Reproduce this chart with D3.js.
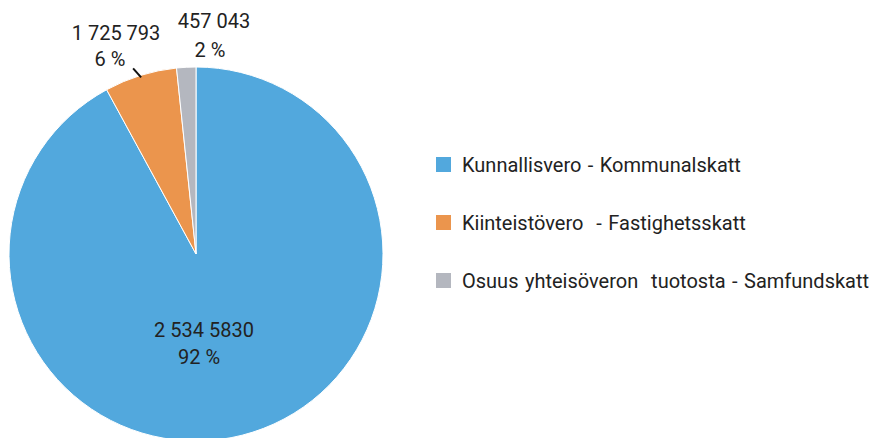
<!DOCTYPE html>
<html>
<head>
<meta charset="utf-8">
<script src="https://cdn.jsdelivr.net/npm/d3@7"></script>
<style>
  body { margin: 0; background: #fff; }
  text { font-family: Roboto, "Noto Sans", sans-serif; fill: #222; }
</style>
</head>
<body>
<div id="chart"></div>
<script>
// data
let categories = ["Kunnallisvero - Kommunalskatt", "Kiinteistövero  - Fastighetsskatt", "Osuus yhteisöveron  tuotosta - Samfundskatt"];
let values = [25345830, 1725793, 457043];
let valueLabels = ["2 534 5830", "1 725 793", "457 043"];
let colors = ["#52a8dd", "#eb954d", "#b4b7bf"];

let width = 870, height = 438;
let cx = 196, cy = 254, radius = 187;
let fontSize = 20;

let svg = d3.select("#chart")
    .append("svg")
        .attr("width", width)
        .attr("height", height);

let data = values.map((v, i) => ({value: v, label: valueLabels[i], name: categories[i], color: colors[i]}));
let total = d3.sum(values);

let pie = d3.pie()
    .sort(null)
    .value(d => d.value);

let arc = d3.arc()
    .innerRadius(0)
    .outerRadius(radius);

let arcs = pie(data);

let g = svg.append("g")
    .attr("transform", `translate(${cx},${cy})`);

g.selectAll("path")
    .data(arcs)
    .enter()
    .append("path")
        .attr("d", arc)
        .attr("fill", d => d.data.color)
        .attr("stroke", "#fff")
        .attr("stroke-width", 1);

let pct = d => Math.round(d.data.value / total * 100) + " %";

// label placement (relative to pie centre): [value line, percent line]
let labelPos = [
    [{x: 8, y: 83}, {x: 3, y: 110}],
    [{x: -80, y: -214}, {x: -86, y: -188}],
    [{x: 18, y: -226}, {x: 14, y: -197}]
];

arcs.forEach((d, i) => {
    let p = labelPos[i];
    g.append("text")
        .attr("x", p[0].x)
        .attr("y", p[0].y)
        .attr("text-anchor", "middle")
        .attr("font-size", fontSize)
        .text(d.data.label);
    g.append("text")
        .attr("x", p[1].x)
        .attr("y", p[1].y)
        .attr("text-anchor", "middle")
        .attr("font-size", fontSize)
        .text(pct(d));
});

// leader line for the orange slice
let mid = (arcs[1].startAngle + arcs[1].endAngle) / 2;
let lx = Math.sin(mid) * (radius - 2), ly = -Math.cos(mid) * (radius - 2);
g.append("line")
    .attr("x1", lx)
    .attr("y1", ly)
    .attr("x2", lx - 8)
    .attr("y2", ly - 9)
    .attr("stroke", "#111")
    .attr("stroke-width", 2);

// legend
let legend = svg.append("g")
    .attr("transform", "translate(436,157)");

let rows = legend.selectAll("g")
    .data(data)
    .enter()
    .append("g")
        .attr("transform", (d, i) => `translate(0,${i * 58})`);

rows.append("rect")
    .attr("width", 15)
    .attr("height", 15)
    .attr("fill", d => d.color);

rows.append("text")
    .attr("x", 26)
    .attr("y", 15)
    .attr("font-size", fontSize)
    .style("white-space", "pre")
    .style("word-spacing", "1.5px")
    .text(d => d.name);
</script>
</body>
</html>
